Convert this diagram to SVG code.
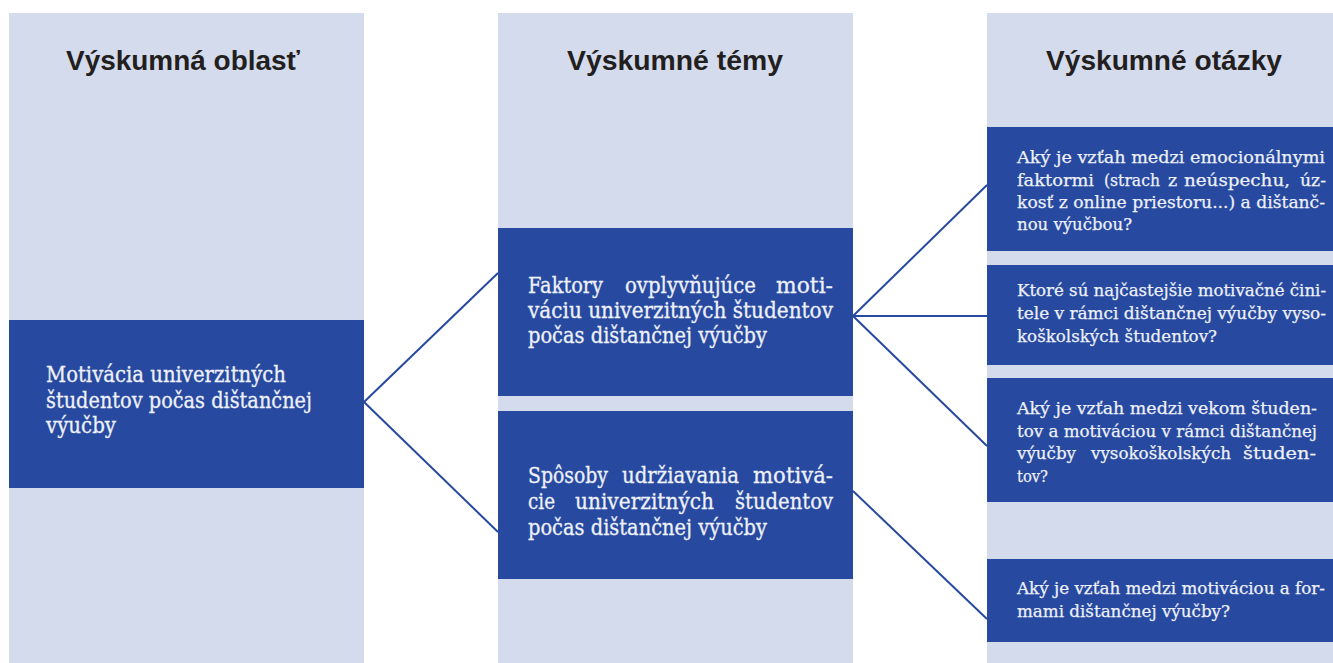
<svg xmlns="http://www.w3.org/2000/svg" width="1333" height="663" viewBox="0 0 1333 663">
<style>
.col{fill:#d4dbec}
.box{fill:#2749a0}
.hd{font-family:"Liberation Sans",Arial,sans-serif;font-weight:bold;font-size:27px;fill:#231f20;text-anchor:middle}
.bt{font-family:"DejaVu Serif","Liberation Serif",serif;font-size:22px;fill:#eef1f8;stroke:#eef1f8;stroke-width:0.3}
.qt{font-family:"DejaVu Serif","Liberation Serif",serif;font-size:17.5px;fill:#eef1f8;stroke:#eef1f8;stroke-width:0.25}
.qs{font-size:16.5px}
.cn{stroke:#2749a0;stroke-width:2;fill:none}
</style>
<rect width="1333" height="663" fill="#ffffff"/>
<g id="columns">
<rect class="col" x="9" y="13" width="355" height="650"/>
<rect class="col" x="498" y="13" width="355" height="650"/>
<rect class="col" x="987" y="13" width="346" height="650"/>
<text class="hd" x="183" y="70" textLength="234" lengthAdjust="spacingAndGlyphs">Výskumná oblasť</text>
<text class="hd" x="675" y="70" textLength="216" lengthAdjust="spacingAndGlyphs">Výskumné témy</text>
<text class="hd" x="1164" y="70" textLength="236" lengthAdjust="spacingAndGlyphs">Výskumné otázky</text>
</g>
<g id="connectors">
<line class="cn" x1="364" y1="402" x2="498" y2="273"/>
<line class="cn" x1="364" y1="402" x2="498" y2="532"/>
<line class="cn" x1="853" y1="316" x2="987" y2="185"/>
<line class="cn" x1="853" y1="316" x2="987" y2="316"/>
<line class="cn" x1="853" y1="316" x2="987" y2="446"/>
<line class="cn" x1="853" y1="491" x2="987" y2="619"/>
</g>
<g id="area">
<rect class="box" x="9" y="320" width="355" height="168"/>
<text class="bt" x="46" y="382" textLength="240" lengthAdjust="spacingAndGlyphs">Motivácia univerzitných</text>
<text class="bt" x="46" y="408" textLength="266" lengthAdjust="spacingAndGlyphs">študentov počas dištančnej</text>
<text class="bt" x="46" y="433" textLength="70" lengthAdjust="spacingAndGlyphs">výučby</text>
</g>
<g id="theme1">
<rect class="box" x="498" y="228" width="355" height="168"/>
<text class="bt" y="293"><tspan x="528" textLength="75" lengthAdjust="spacingAndGlyphs">Faktory</tspan><tspan x="625" textLength="131" lengthAdjust="spacingAndGlyphs">ovplyvňujúce</tspan><tspan x="776" textLength="57" lengthAdjust="spacingAndGlyphs">moti-</tspan></text>
<text class="bt" x="528" y="318" textLength="305" lengthAdjust="spacingAndGlyphs">váciu univerzitných študentov</text>
<text class="bt" x="528" y="343" textLength="239" lengthAdjust="spacingAndGlyphs">počas dištančnej výučby</text>
</g>
<g id="theme2">
<rect class="box" x="498" y="411" width="355" height="168"/>
<text class="bt" y="483"><tspan x="528" textLength="80" lengthAdjust="spacingAndGlyphs">Spôsoby</tspan><tspan x="622" textLength="117" lengthAdjust="spacingAndGlyphs">udržiavania</tspan><tspan x="753" textLength="80" lengthAdjust="spacingAndGlyphs">motivá-</tspan></text>
<text class="bt" y="509"><tspan x="528" textLength="27" lengthAdjust="spacingAndGlyphs">cie</tspan><tspan x="575" textLength="139" lengthAdjust="spacingAndGlyphs">univerzitných</tspan><tspan x="735" textLength="98" lengthAdjust="spacingAndGlyphs">študentov</tspan></text>
<text class="bt" x="528" y="535" textLength="239" lengthAdjust="spacingAndGlyphs">počas dištančnej výučby</text>
</g>
<g id="q1">
<rect class="box" x="987" y="127" width="346" height="124"/>
<text class="qt" x="1017" y="163" textLength="308" lengthAdjust="spacingAndGlyphs">Aký je vzťah medzi emocionálnymi</text>
<text class="qt" y="186"><tspan x="1017" textLength="77" lengthAdjust="spacingAndGlyphs">faktormi</tspan><tspan x="1104" textLength="56" lengthAdjust="spacingAndGlyphs">(strach</tspan><tspan x="1168">z</tspan><tspan x="1184" textLength="106" lengthAdjust="spacingAndGlyphs">neúspechu,</tspan><tspan x="1300" textLength="26" lengthAdjust="spacingAndGlyphs">úz-</tspan></text>
<text class="qt" x="1017" y="208" textLength="308" lengthAdjust="spacingAndGlyphs">kosť z online priestoru...) a dištanč-</text>
<text class="qt" x="1017" y="230" textLength="115" lengthAdjust="spacingAndGlyphs">nou výučbou?</text>
</g>
<g id="q2">
<rect class="box" x="987" y="265" width="346" height="100"/>
<text class="qt qs" x="1017" y="296" textLength="309" lengthAdjust="spacingAndGlyphs">Ktoré sú najčastejšie motivačné čini-</text>
<text class="qt qs" x="1017" y="319" textLength="309" lengthAdjust="spacingAndGlyphs">tele v rámci dištančnej výučby vyso-</text>
<text class="qt" x="1017" y="342" textLength="200" lengthAdjust="spacingAndGlyphs">koškolských študentov?</text>
</g>
<g id="q3">
<rect class="box" x="987" y="378" width="346" height="124"/>
<text class="qt" x="1017" y="414" textLength="300" lengthAdjust="spacingAndGlyphs">Aký je vzťah medzi vekom študen-</text>
<text class="qt" x="1017" y="437" textLength="300" lengthAdjust="spacingAndGlyphs">tov a motiváciou v rámci dištančnej</text>
<text class="qt" y="459"><tspan x="1017" textLength="59" lengthAdjust="spacingAndGlyphs">výučby</tspan><tspan x="1091" textLength="140" lengthAdjust="spacingAndGlyphs">vysokoškolských</tspan><tspan x="1243" textLength="73" lengthAdjust="spacingAndGlyphs">študen-</tspan></text>
<text class="qt" x="1017" y="482" textLength="31" lengthAdjust="spacingAndGlyphs">tov?</text>
</g>
<g id="q4">
<rect class="box" x="987" y="559" width="346" height="83"/>
<text class="qt qs" x="1017" y="594" textLength="308" lengthAdjust="spacingAndGlyphs">Aký je vzťah medzi motiváciou a for-</text>
<text class="qt" x="1017" y="617" textLength="213" lengthAdjust="spacingAndGlyphs">mami dištančnej výučby?</text>
</g>
</svg>
